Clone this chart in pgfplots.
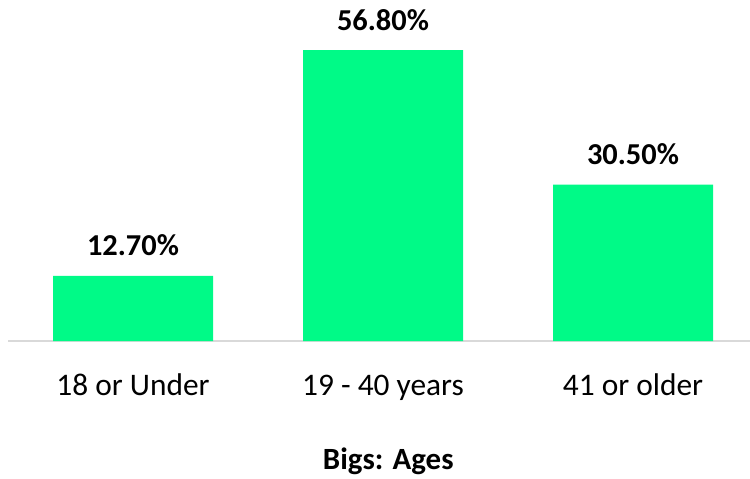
\documentclass[border=0pt]{standalone}
\usepackage{pgfplots}
\pgfplotsset{compat=1.18}
\usepackage{fontspec}
\setmainfont{Carlito}
\definecolor{bargreen}{RGB}{0,250,135}
\definecolor{axisgray}{RGB}{217,217,217}
\begin{document}
\begin{tikzpicture}
\begin{axis}[
  scale only axis,
  width=750bp, height=341bp,
  xmin=-0.5, xmax=2.5,
  ymin=0, ymax=66.56,
  axis x line*=bottom,
  axis y line=none,
  axis line style={axisgray, line width=2bp},
  xtick={0,1,2},
  xticklabels={18 or Under, 19 - 40 years, 41 or older},
  major tick length=0pt,
  xticklabel style={anchor=base, yshift=-54bp, font=\fontsize{31.5}{36}\selectfont, text=black},
  xlabel={Bigs: Ages},
  xlabel style={at={(axis description cs:0.507,0)}, anchor=base, yshift=-128bp, font=\fontsize{31}{36}\selectfont\bfseries},
  /pgf/number format/assume math mode=true,
  clip=false,
]
\addplot[ybar, bar width=160bp, fill=bargreen, draw=none,
  nodes near coords={\pgfmathprintnumber[fixed,fixed zerofill,precision=2]{\pgfplotspointmeta}\%},
  nodes near coords style={anchor=base, yshift=20bp, font=\fontsize{30.5}{36}\selectfont\bfseries, text=black}]
coordinates {(0,12.7) (1,56.8) (2,30.5)};
\end{axis}
\pgfresetboundingbox
\path[use as bounding box] (-8bp,-138bp) rectangle (742bp,341bp);
\end{tikzpicture}
\end{document}
